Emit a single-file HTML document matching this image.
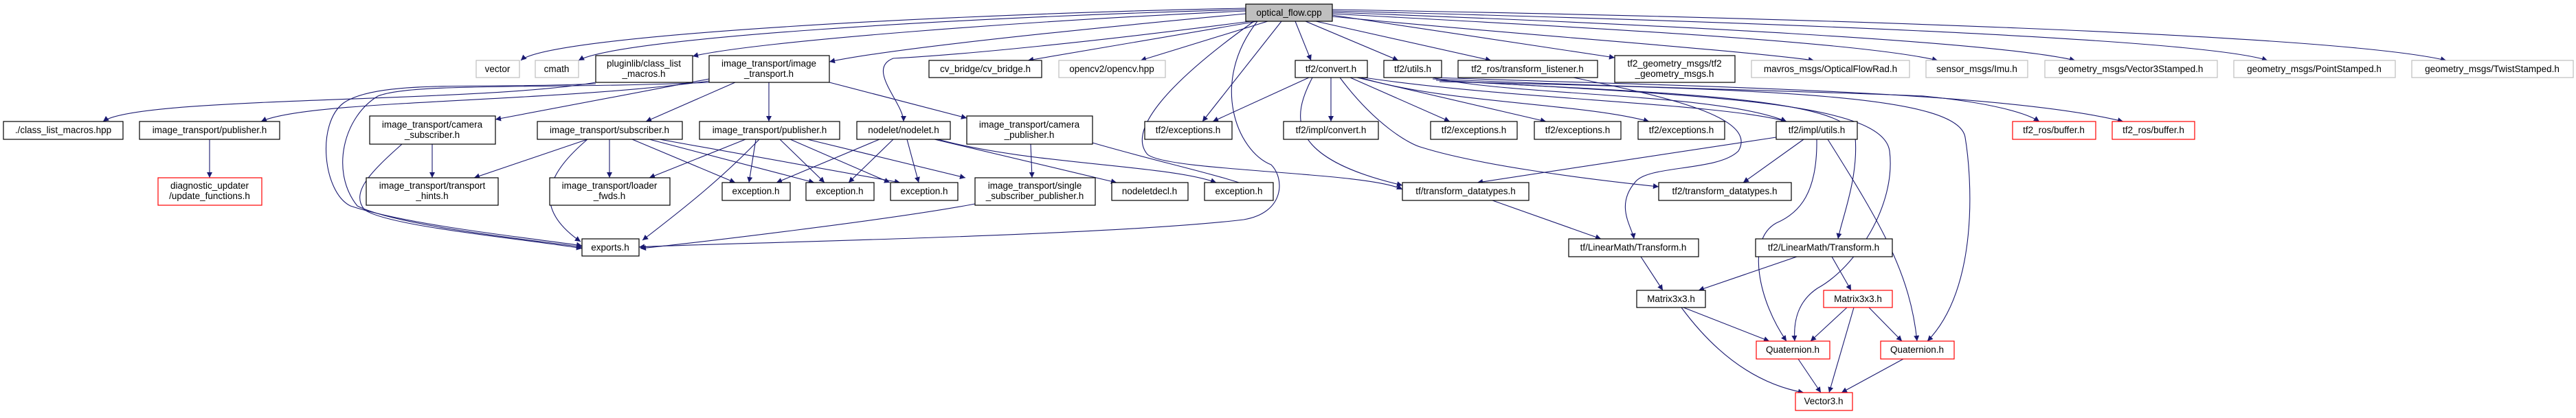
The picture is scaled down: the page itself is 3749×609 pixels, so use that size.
<!DOCTYPE html>
<html><head><meta charset="utf-8"><style>
html,body{margin:0;padding:0;background:#fff}
svg text{font-family:"Liberation Sans",sans-serif;font-size:13.5px;fill:#000;text-anchor:middle}
.n{fill:#fff;stroke:#000;stroke-width:1.2}
.g{fill:#fff;stroke:#bfbfbf;stroke-width:1.2}
.r{fill:#fff;stroke:#f00;stroke-width:1.2}
.e{fill:none;stroke:#191970;stroke-width:1.1}
</style></head><body>
<svg width="3749" height="604" viewBox="0 0 3749 604" xmlns="http://www.w3.org/2000/svg">
<defs><marker id="a" viewBox="0 0 10 10" refX="10" refY="5" markerWidth="10" markerHeight="8" markerUnits="userSpaceOnUse" orient="auto"><path d="M0,0 L10,5 L0,10 z" fill="#191970"/></marker></defs>
<g class="e" marker-end="url(#a)">
<!-- from optical_flow.cpp -->
<path d="M1813,12 C1400,20 800,50 758,88"/>
<path d="M1813,14 C1400,25 900,55 842,88"/>
<path d="M1813,16 C1500,30 1100,60 1008,82"/>
<path d="M1813,20 C1600,40 1300,70 1207,90"/>
<path d="M1820,31 C1600,60 1400,80 1300,85 C1260,100 1315,150 1315,177"/>
<path d="M1830,31 L1496,88"/>
<path d="M1845,31 L1660,88"/>
<path d="M1865,31 L1750,177"/>
<path d="M1885,31 L1908,88"/>
<path d="M1900,31 L2035,88"/>
<path d="M1915,31 L2170,88"/>
<path d="M1939,22 L2350,84"/>
<path d="M1939,24 C2200,50 2500,70 2640,88"/>
<path d="M1939,20 C2300,40 2700,60 2820,88"/>
<path d="M1939,18 C2400,35 2900,60 3020,88"/>
<path d="M1939,16 C2500,30 3200,55 3300,88"/>
<path d="M1939,14 C2600,25 3400,50 3560,88"/>
<path d="M1825,31 C1700,120 1640,190 1670,225 C1700,250 1990,250 2041,276"/>
<path d="M1830,31 C1760,120 1800,220 1850,240 C1870,260 1870,310 1810,320 C1600,345 1000,355 930,360"/>
<!-- pluginlib -->
<path d="M867,120 C700,150 200,140 150,177"/>
<path d="M867,122 C700,130 550,115 500,150 C460,180 470,280 510,300 C600,330 800,350 847,358"/>
<!-- image_transport.h -->
<path d="M1032,118 C800,150 450,145 380,177"/>
<path d="M1032,115 C900,140 800,160 721,174"/>
<path d="M1070,120 L940,177"/>
<path d="M1119,120 L1119,177"/>
<path d="M1207,120 L1407,172"/>
<path d="M1032,120 C800,130 600,120 550,140 C500,170 480,250 520,300 C580,330 780,350 847,360"/>
<!-- left publisher -->
<path d="M305,203 L305,259"/>
<!-- camera subscriber -->
<path d="M629,210 L629,259"/>
<path d="M585,210 C540,250 510,280 530,305 C560,330 780,350 847,362"/>
<!-- subscriber -->
<path d="M855,203 L690,259"/>
<path d="M887,203 L887,259"/>
<path d="M855,203 C800,250 770,300 845,352"/>
<path d="M920,203 L1070,266"/>
<path d="M945,203 L1185,266"/>
<path d="M960,203 L1310,266"/>
<!-- middle publisher -->
<path d="M1085,203 L945,259"/>
<path d="M1100,203 L1090,266"/>
<path d="M1135,203 L1200,266"/>
<path d="M1150,203 L1295,266"/>
<path d="M1175,203 L1405,259"/>
<path d="M1105,203 C1050,260 1000,300 935,350"/>
<!-- nodelet -->
<path d="M1280,203 L1130,266"/>
<path d="M1300,203 L1235,266"/>
<path d="M1320,203 L1337,266"/>
<path d="M1360,203 L1625,266"/>
<path d="M1365,203 C1500,240 1700,240 1770,266"/>
<!-- camera publisher -->
<path d="M1500,210 L1502,259"/>
<path d="M1590,208 C1700,240 1800,260 1840,280"/>
<!-- single_subscriber_publisher -->
<path d="M1419,297 C1300,320 1000,355 932,362"/>
<!-- tf2/convert.h -->
<path d="M1905,113 L1765,177"/>
<path d="M1937,113 L1937,177"/>
<path d="M1965,113 L2110,177"/>
<path d="M1975,113 L2250,177"/>
<path d="M1980,113 C2100,150 2300,150 2400,177"/>
<path d="M1985,113 C2200,145 2500,150 2600,177"/>
<path d="M1910,113 C1880,170 1870,230 2041,270"/>
<path d="M1950,113 C2000,180 2050,210 2070,215 C2150,240 2300,260 2414,272"/>
<!-- tf2/utils.h -->
<path d="M2085,113 C2200,140 2500,135 2600,177"/>
<path d="M2085,115 C2300,125 2700,135 2800,140 C2900,150 2950,165 2968,177"/>
<path d="M2090,113 C2400,125 2900,130 3090,177"/>
<path d="M2090,117 C2400,135 2690,140 2700,200 C2705,260 2680,320 2675,348"/>
<path d="M2095,117 C2500,140 2740,150 2750,220 C2760,300 2700,390 2645,420 C2615,440 2610,470 2612,497"/>
<path d="M2095,119 C2600,130 2850,140 2860,200 C2870,260 2880,420 2805,497"/>
<!-- transform_listener -->
<path d="M2290,113 C2420,140 2560,170 2530,220 C2500,250 2400,240 2380,265 C2350,300 2375,330 2378,348"/>
<!-- tf2/impl/utils.h -->
<path d="M2585,200 L2150,266"/>
<path d="M2625,203 L2537,266"/>
<path d="M2644,203 C2645,280 2620,310 2585,325 C2540,350 2560,440 2600,497"/>
<path d="M2660,203 C2740,330 2780,400 2790,497"/>
<!-- lower tf chain -->
<path d="M2172,292 L2330,348"/>
<path d="M2388,374 L2420,423"/>
<path d="M2615,374 L2472,423"/>
<path d="M2666,374 L2694,423"/>
<path d="M2450,448 L2575,497"/>
<path d="M2447,448 C2500,520 2560,560 2625,572"/>
<path d="M2688,448 L2635,497"/>
<path d="M2698,448 L2662,572"/>
<path d="M2720,448 L2768,497"/>
<path d="M2617,523 L2650,572"/>
<path d="M2770,523 L2680,572"/>
</g>
<!-- nodes -->
<rect class="n" x="1813" y="6" width="126" height="25" style="fill:#bfbfbf"/><text x="1876" y="23">optical_flow.cpp</text>
<rect class="g" x="693" y="88" width="63" height="25"/><text x="724" y="105">vector</text>
<rect class="g" x="779" y="88" width="63" height="25"/><text x="810" y="105">cmath</text>
<rect class="n" x="867" y="81" width="141" height="39"/><text x="937" y="97">pluginlib/class_list</text><text x="937" y="112">_macros.h</text>
<rect class="n" x="1032" y="81" width="175" height="39"/><text x="1119" y="97">image_transport/image</text><text x="1119" y="112">_transport.h</text>
<rect class="n" x="1352" y="88" width="164" height="25"/><text x="1434" y="105">cv_bridge/cv_bridge.h</text>
<rect class="g" x="1541" y="88" width="155" height="25"/><text x="1618" y="105">opencv2/opencv.hpp</text>
<rect class="n" x="1885" y="88" width="105" height="25"/><text x="1937" y="105">tf2/convert.h</text>
<rect class="n" x="2014" y="88" width="84" height="25"/><text x="2056" y="105">tf2/utils.h</text>
<rect class="n" x="2122" y="88" width="203" height="25"/><text x="2223" y="105">tf2_ros/transform_listener.h</text>
<rect class="n" x="2350" y="81" width="175" height="39"/><text x="2437" y="97">tf2_geometry_msgs/tf2</text><text x="2437" y="112">_geometry_msgs.h</text>
<rect class="g" x="2549" y="88" width="230" height="25"/><text x="2664" y="105">mavros_msgs/OpticalFlowRad.h</text>
<rect class="g" x="2803" y="88" width="148" height="25"/><text x="2877" y="105">sensor_msgs/Imu.h</text>
<rect class="g" x="2976" y="88" width="251" height="25"/><text x="3101" y="105">geometry_msgs/Vector3Stamped.h</text>
<rect class="g" x="3251" y="88" width="235" height="25"/><text x="3368" y="105">geometry_msgs/PointStamped.h</text>
<rect class="g" x="3510" y="88" width="235" height="25"/><text x="3627" y="105">geometry_msgs/TwistStamped.h</text>

<rect class="n" x="5" y="177" width="174" height="26"/><text x="92" y="194">./class_list_macros.hpp</text>
<rect class="n" x="203" y="177" width="204" height="26"/><text x="305" y="194">image_transport/publisher.h</text>
<rect class="n" x="538" y="169" width="183" height="41"/><text x="629" y="186">image_transport/camera</text><text x="629" y="201">_subscriber.h</text>
<rect class="n" x="782" y="177" width="211" height="26"/><text x="887" y="194">image_transport/subscriber.h</text>
<rect class="n" x="1018" y="177" width="204" height="26"/><text x="1120" y="194">image_transport/publisher.h</text>
<rect class="n" x="1247" y="177" width="136" height="26"/><text x="1315" y="194">nodelet/nodelet.h</text>
<rect class="n" x="1407" y="169" width="183" height="41"/><text x="1498" y="186">image_transport/camera</text><text x="1498" y="201">_publisher.h</text>
<rect class="n" x="1666" y="177" width="127" height="26"/><text x="1729" y="194">tf2/exceptions.h</text>
<rect class="n" x="1868" y="177" width="138" height="26"/><text x="1937" y="194">tf2/impl/convert.h</text>
<rect class="n" x="2082" y="177" width="126" height="26"/><text x="2145" y="194">tf2/exceptions.h</text>
<rect class="n" x="2233" y="177" width="126" height="26"/><text x="2296" y="194">tf2/exceptions.h</text>
<rect class="n" x="2384" y="177" width="126" height="26"/><text x="2447" y="194">tf2/exceptions.h</text>
<rect class="n" x="2585" y="177" width="118" height="26"/><text x="2644" y="194">tf2/impl/utils.h</text>
<rect class="r" x="2929" y="177" width="121" height="26"/><text x="2989" y="194">tf2_ros/buffer.h</text>
<rect class="r" x="3074" y="177" width="120" height="26"/><text x="3134" y="194">tf2_ros/buffer.h</text>

<rect class="r" x="230" y="259" width="151" height="40"/><text x="305" y="275">diagnostic_updater</text><text x="305" y="290">/update_functions.h</text>
<rect class="n" x="533" y="259" width="192" height="40"/><text x="629" y="275">image_transport/transport</text><text x="629" y="290">_hints.h</text>
<rect class="n" x="800" y="259" width="175" height="40"/><text x="887" y="275">image_transport/loader</text><text x="887" y="290">_fwds.h</text>
<rect class="n" x="1051" y="266" width="99" height="26"/><text x="1100" y="283">exception.h</text>
<rect class="n" x="1173" y="266" width="99" height="26"/><text x="1222" y="283">exception.h</text>
<rect class="n" x="1296" y="266" width="98" height="26"/><text x="1345" y="283">exception.h</text>
<rect class="n" x="1419" y="259" width="175" height="40"/><text x="1506" y="275">image_transport/single</text><text x="1506" y="290">_subscriber_publisher.h</text>
<rect class="n" x="1618" y="266" width="111" height="26"/><text x="1673" y="283">nodeletdecl.h</text>
<rect class="n" x="1753" y="266" width="100" height="26"/><text x="1803" y="283">exception.h</text>
<rect class="n" x="2041" y="266" width="184" height="26"/><text x="2133" y="283">tf/transform_datatypes.h</text>
<rect class="n" x="2414" y="266" width="193" height="26"/><text x="2510" y="283">tf2/transform_datatypes.h</text>

<rect class="n" x="847" y="348" width="83" height="25"/><text x="888" y="365">exports.h</text>
<rect class="n" x="2283" y="348" width="189" height="26"/><text x="2377" y="365">tf/LinearMath/Transform.h</text>
<rect class="n" x="2555" y="348" width="199" height="26"/><text x="2654" y="365">tf2/LinearMath/Transform.h</text>
<rect class="n" x="2382" y="423" width="100" height="25"/><text x="2432" y="440">Matrix3x3.h</text>
<rect class="r" x="2654" y="423" width="100" height="25"/><text x="2704" y="440">Matrix3x3.h</text>
<rect class="r" x="2556" y="497" width="107" height="26"/><text x="2609" y="514">Quaternion.h</text>
<rect class="r" x="2737" y="497" width="107" height="26"/><text x="2790" y="514">Quaternion.h</text>
<rect class="r" x="2613" y="572" width="83" height="26"/><text x="2654" y="589">Vector3.h</text>
</svg>
</body></html>
